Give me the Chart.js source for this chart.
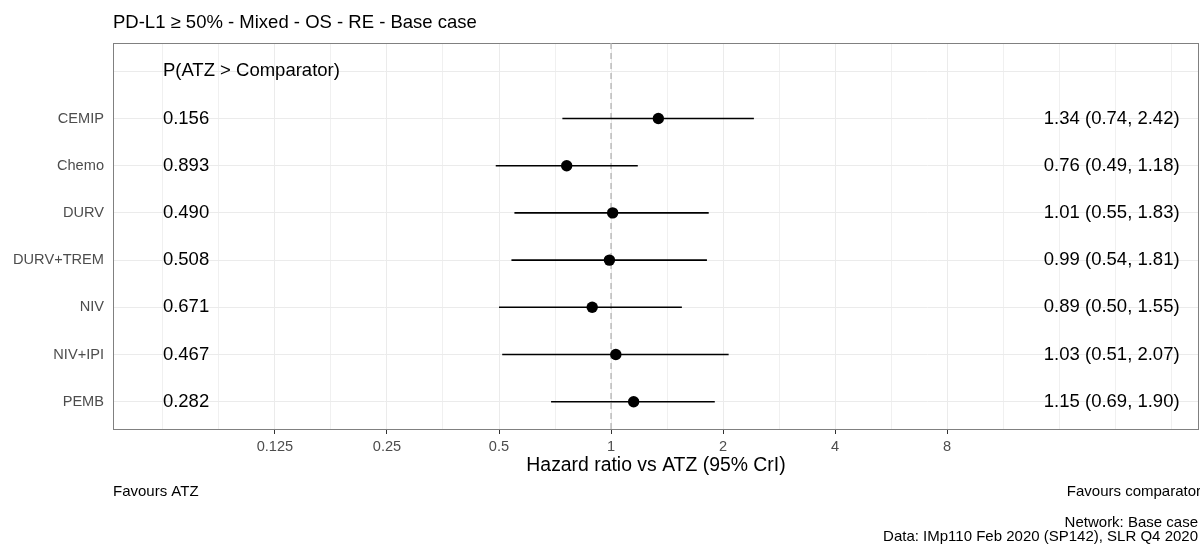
<!DOCTYPE html>
<html>
<head>
<meta charset="utf-8"/>
<title>PD-L1 ≥ 50% - Mixed - OS - RE - Base case</title>
<script src="https://cdn.jsdelivr.net/npm/chart.js@4.4.1/dist/chart.umd.min.js"></script>
<style>
  body { margin: 0; background: #fff; }
  #wrap { width: 1200px; height: 545px; }
</style>
</head>
<body>
<div id="wrap"><canvas id="chart" width="1200" height="545"></canvas></div>
<script>
// data
var treatments = ['CEMIP', 'Chemo', 'DURV', 'DURV+TREM', 'NIV', 'NIV+IPI', 'PEMB'];
var hr    = [1.34, 0.76, 1.01, 0.99, 0.89, 1.03, 1.15];
var lower = [0.74, 0.49, 0.55, 0.54, 0.50, 0.51, 0.69];
var upper = [2.42, 1.18, 1.83, 1.81, 1.55, 2.07, 1.90];
var probBetter = ['0.156', '0.893', '0.490', '0.508', '0.671', '0.467', '0.282'];
var xTickLabels = ['0.125', '0.25', '0.5', '1', '2', '4', '8'];

var FONT = "'Liberation Sans', Arial, sans-serif";
var xMin = 0.0459, xMax = 38;
var yMin = -0.6, yMax = 7.6;
var probX = 0.0625;   // left edge of probability column
var estX = 33.7;      // right edge of estimate column

function isMajor(v) {
  return xTickLabels.some(function(l) { return Math.abs(parseFloat(l) - v) < 1e-6; });
}

var datasets = [];
datasets.push({
  label: 'points',
  data: treatments.map(function(t, i) { return {x: hr[i], y: i + 1}; }),
  pointRadius: 5.7,
  pointHoverRadius: 5.7,
  backgroundColor: '#000',
  borderWidth: 0,
  order: 0
});
treatments.forEach(function(t, i) {
  datasets.push({
    label: t + ' CrI',
    data: [{x: lower[i], y: i + 1}, {x: upper[i], y: i + 1}],
    showLine: true,
    borderColor: '#000',
    borderWidth: 1.6,
    pointRadius: 0,
    order: 1
  });
});
datasets.push({
  label: 'ref',
  data: [{x: 1, y: yMin}, {x: 1, y: yMax}],
  showLine: true,
  borderColor: '#B3B3B3',
  borderWidth: 1.3,
  borderDash: [6, 4],
  pointRadius: 0,
  order: 2
});

var textPlugin = {
  id: 'forestText',
  beforeDatasetsDraw: function(chart) {
    var ctx = chart.ctx, a = chart.chartArea;
    ctx.save();
    ctx.strokeStyle = '#808080';
    ctx.lineWidth = 1;
    ctx.strokeRect(a.left + 0.5, a.top + 0.5, a.right - a.left - 1, a.bottom - a.top - 1);
    ctx.restore();
  },
  afterDatasetsDraw: function(chart) {
    var ctx = chart.ctx, xs = chart.scales.x, ys = chart.scales.y;
    ctx.save();
    ctx.fillStyle = '#000';
    ctx.font = '18.5px ' + FONT;
    ctx.textBaseline = 'middle';
    ctx.textAlign = 'left';
    ctx.fillText('P(ATZ > Comparator)', xs.getPixelForValue(probX), ys.getPixelForValue(0));
    treatments.forEach(function(t, i) {
      var y = ys.getPixelForValue(i + 1);
      ctx.textAlign = 'left';
      ctx.fillText(probBetter[i], xs.getPixelForValue(probX), y);
      ctx.textAlign = 'right';
      ctx.fillText(hr[i].toFixed(2) + ' (' + lower[i].toFixed(2) + ', ' + upper[i].toFixed(2) + ')',
        xs.getPixelForValue(estX), y);
    });
    ctx.restore();
  },
  afterDraw: function(chart) {
    var ctx = chart.ctx, a = chart.chartArea;
    ctx.save();
    ctx.fillStyle = '#000';
    ctx.textBaseline = 'middle';
    ctx.font = '18.5px ' + FONT;
    ctx.textAlign = 'left';
    ctx.fillText('PD-L1 ≥ 50% - Mixed - OS - RE - Base case', a.left, 23);
    ctx.font = '15px ' + FONT;
    ctx.fillText('Favours ATZ', a.left, 492);
    ctx.textAlign = 'right';
    ctx.fillText('Favours comparator', 1201, 492);
    ctx.fillText('Network: Base case', 1198, 523);
    ctx.fillText('Data: IMp110 Feb 2020 (SP142), SLR Q4 2020', 1198, 537);
    ctx.restore();
  }
};

new Chart(document.getElementById('chart'), {
  type: 'scatter',
  data: { datasets: datasets },
  options: {
    responsive: false,
    animation: false,
    layout: { autoPadding: false, padding: { top: 43, right: 1, bottom: 68, left: 0 } },
    plugins: { legend: { display: false }, tooltip: { enabled: false } },
    scales: {
      x: {
        type: 'logarithmic',
        min: xMin,
        max: xMax,
        afterBuildTicks: function(s) {
          var t = [];
          for (var k = -8; k <= 10; k++) t.push({value: Math.pow(2, k / 2)});
          s.ticks = t;
        },
        afterFit: function(s) { s.height = 47; },
        border: { display: false },
        grid: {
          color: function(c) { return c.tick && isMajor(c.tick.value) ? '#EBEBEB' : '#F0F0F0'; },
          lineWidth: 1,
          tickLength: 4,
          tickColor: function(c) { return c.tick && isMajor(c.tick.value) ? '#333333' : 'rgba(0,0,0,0)'; }
        },
        ticks: {
          autoSkip: false,
          maxRotation: 0,
          padding: 4.5,
          color: '#4D4D4D',
          font: { family: FONT, size: 14.6 },
          callback: function(v) {
            for (var i = 0; i < xTickLabels.length; i++) {
              if (Math.abs(parseFloat(xTickLabels[i]) - v) < 1e-6) return xTickLabels[i];
            }
            return '';
          }
        },
        title: {
          display: true,
          text: 'Hazard ratio vs ATZ (95% CrI)',
          color: '#000',
          font: { family: FONT, size: 19.4 },
          padding: { top: 0, bottom: 0 }
        }
      },
      y: {
        type: 'linear',
        reverse: true,
        min: yMin,
        max: yMax,
        afterBuildTicks: function(s) {
          var t = [];
          for (var k = 0; k <= treatments.length; k++) t.push({value: k});
          s.ticks = t;
        },
        afterFit: function(s) { s.width = 113; },
        border: { display: false },
        grid: { color: '#EBEBEB', lineWidth: 1, drawTicks: false },
        ticks: {
          autoSkip: false,
          padding: 9,
          color: '#4D4D4D',
          font: { family: FONT, size: 14.6 },
          callback: function(v) { return v >= 1 ? treatments[v - 1] : ''; }
        }
      }
    }
  },
  plugins: [textPlugin]
});
</script>
</body>
</html>
